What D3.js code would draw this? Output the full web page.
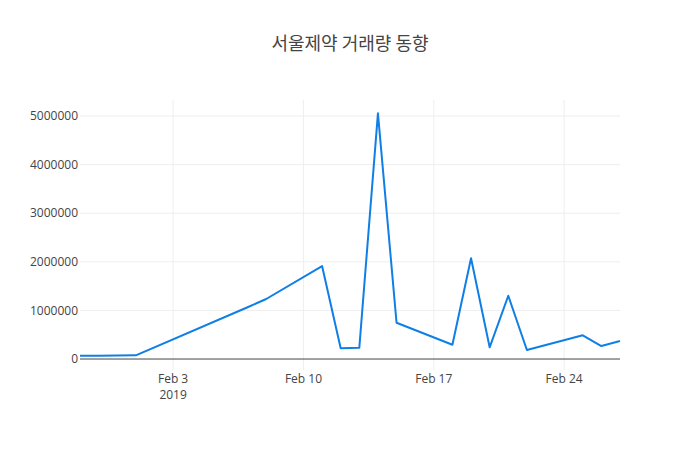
<!DOCTYPE html>
<html><head><meta charset="utf-8">
<script src="https://cdn.jsdelivr.net/npm/d3@7"></script>
<style>body{margin:0;background:#fff}svg{display:block}</style>
</head><body>
<svg id="c" width="700" height="450"></svg>
<script>
const title = "서울제약 거래량 동향";
const dates = ["2019-01-29","2019-01-30","2019-01-31","2019-02-01","2019-02-07","2019-02-08","2019-02-11","2019-02-12","2019-02-13","2019-02-14","2019-02-15","2019-02-18","2019-02-19","2019-02-20","2019-02-21","2019-02-22","2019-02-25","2019-02-26","2019-02-27"];
const volumes = [68000,66000,70000,75000,1065000,1235000,1913000,220000,232000,5055000,747000,294000,2072000,241000,1302000,185000,488000,267000,370000];
const yTicks = [0,1000000,2000000,3000000,4000000,5000000];
const xTicks = ["2019-02-03","2019-02-10","2019-02-17","2019-02-24"];
const xTickLabels = ["Feb 3","Feb 10","Feb 17","Feb 24"];

const parse = d3.timeParse("%Y-%m-%d");
const data = dates.map((d,i)=>({date:parse(d), v:volumes[i]}));
const L=80,R=620,T=100,B=370;
const svg = d3.select("#c");
const font = "'Open Sans', 'Noto Sans', sans-serif";

const x = d3.scaleTime().domain([parse(dates[0]), parse(dates[dates.length-1])]).range([L,R]);
const y = d3.scaleLinear().domain([-226000, 5330000]).range([B,T]);

// grid
svg.append("g").selectAll("line").data(xTicks).join("line")
  .attr("x1",d=>x(parse(d))).attr("x2",d=>x(parse(d)))
  .attr("y1",T).attr("y2",B).attr("stroke","#eee").attr("stroke-width",1);
svg.append("g").selectAll("line").data(yTicks.filter(t=>t!==0)).join("line")
  .attr("x1",L).attr("x2",R).attr("y1",d=>y(d)).attr("y2",d=>y(d))
  .attr("stroke","#eee").attr("stroke-width",1);
// zero line
svg.append("line").attr("x1",L).attr("x2",R).attr("y1",y(0)).attr("y2",y(0))
  .attr("stroke","#444").attr("stroke-width",1);

// y tick labels
svg.append("g").selectAll("text").data(yTicks).join("text")
  .attr("x",L-2).attr("y",d=>y(d)).attr("dy","0.35em")
  .attr("text-anchor","end").attr("font-family",font).attr("font-size",12).attr("fill","#444")
  .text(d=>d3.format("d")(d));
// x tick labels
const xg = svg.append("g").selectAll("text").data(xTicks).join("text")
  .attr("x",d=>x(parse(d))).attr("y",B+13)
  .attr("text-anchor","middle").attr("font-family",font).attr("font-size",12).attr("fill","#444");
xg.append("tspan").attr("x",d=>x(parse(d))).text((d,i)=>xTickLabels[i]);
xg.filter((d,i)=>i===0).append("tspan").attr("x",d=>x(parse(d))).attr("dy",16).text("2019");

// line
svg.append("path").datum(data)
  .attr("fill","none").attr("stroke","#0f7fe6").attr("stroke-width",2).attr("stroke-linejoin","round")
  .attr("d", d3.line().x(d=>x(d.date)).y(d=>y(d.v)));

// title
svg.append("text").attr("x",350).attr("y",50).attr("text-anchor","middle")
  .attr("font-family","'Noto Sans CJK KR', 'Open Sans', sans-serif").attr("font-size",18).attr("fill","#444")
  .text(title);
</script>
</body></html>
